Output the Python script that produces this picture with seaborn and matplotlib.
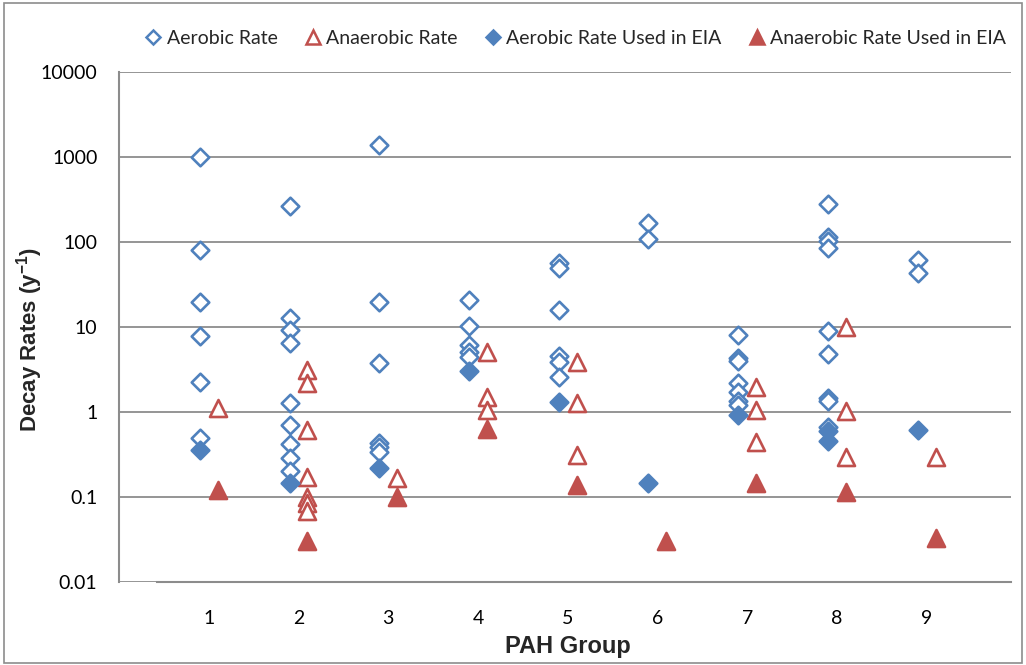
import matplotlib
matplotlib.use("Agg")
import matplotlib.pyplot as plt
import matplotlib.patches as patches
import matplotlib.ticker as mticker
import pandas as pd
import seaborn as sns

# PAH group decay rates (1/y)
aerobic_group = [1, 1, 1, 1, 1, 1,
                 2, 2, 2, 2, 2, 2, 2, 2, 2,
                 3, 3, 3, 3, 3, 3,
                 4, 4, 4, 4, 4,
                 5, 5, 5, 5, 5, 5,
                 6, 6,
                 7, 7, 7, 7, 7, 7, 7,
                 8, 8, 8, 8, 8, 8, 8, 8, 8,
                 9, 9]
aerobic_rate = [1000, 80, 19.7, 7.8, 2.25, 0.5,
                265, 12.8, 9.2, 6.5, 1.28, 0.7, 0.42, 0.29, 0.2,
                1380, 19.7, 3.77, 0.43, 0.39, 0.34,
                20.8, 10.3, 6.1, 5.1, 4.4,
                56.6, 49.5, 15.8, 4.56, 3.87, 2.58,
                167, 108,
                8.05, 4.3, 4.0, 2.19, 1.72, 1.35, 1.2,
                280, 115, 103, 85, 9.0, 4.8, 1.46, 1.35, 0.67,
                61.4, 43]

anaerobic_group = [1,
                   2, 2, 2, 2, 2, 2, 2,
                   3,
                   4, 4, 4,
                   5, 5, 5,
                   7, 7, 7,
                   8, 8, 8,
                   9]
anaerobic_rate = [1.11,
                  3.1, 2.2, 0.61, 0.17, 0.1, 0.085, 0.068,
                  0.167,
                  5.1, 1.5, 1.06,
                  3.87, 1.28, 0.31,
                  1.97, 1.06, 0.44,
                  10, 1.03, 0.296,
                  0.296]

aerobic_eia_group = [1, 2, 3, 4, 5, 6, 7, 8, 8, 9]
aerobic_eia_rate = [0.36, 0.146, 0.22, 3.0, 1.31, 0.146, 0.92, 0.6, 0.45, 0.61]

anaerobic_eia_group = [1, 2, 3, 4, 5, 6, 7, 8, 9]
anaerobic_eia_rate = [0.12, 0.03, 0.1, 0.63, 0.138, 0.03, 0.146, 0.115, 0.033]

group_ticks = [1, 2, 3, 4, 5, 6, 7, 8, 9]
rate_ticks = [0.01, 0.1, 1, 10, 100, 1000, 10000]

BLUE = "#4F81BD"
RED = "#C0504D"
GRID = "#8C8C8C"

sns.set_style("white")
plt.rcParams["font.family"] = ["Lato", "DejaVu Sans"]
plt.rcParams["mathtext.fontset"] = "custom"
plt.rcParams["mathtext.rm"] = "Liberation Sans"
plt.rcParams["mathtext.bf"] = "Liberation Sans:bold"

fig = plt.figure(figsize=(10.26, 6.65), dpi=100)
ax = fig.add_axes([119 / 1026, 1 - 582 / 665, (1011 - 119) / 1026, (582 - 72) / 665])

series = [
    (aerobic_group, aerobic_rate, -0.1, "D", "white", BLUE, 80, "Aerobic Rate"),
    (anaerobic_group, anaerobic_rate, 0.1, "^", "white", RED, 150, "Anaerobic Rate"),
    (aerobic_eia_group, aerobic_eia_rate, -0.1, "D", BLUE, BLUE, 80, "Aerobic Rate Used in EIA"),
    (anaerobic_eia_group, anaerobic_eia_rate, 0.1, "^", RED, RED, 150, "Anaerobic Rate Used in EIA"),
]

for grp, rate, off, mk, fc, ec, size, label in series:
    df = pd.DataFrame({"group": [g + off for g in grp], "rate": rate})
    sns.scatterplot(data=df, x="group", y="rate", marker=mk, s=size,
                    facecolor=fc, edgecolor=ec, linewidth=1.9, label=label,
                    ax=ax, zorder=3, legend=False)

ax.set_yscale("log")
ax.set_ylim(0.01, 10000)
ax.set_xlim(0, 9.94)
ax.yaxis.set_major_locator(mticker.FixedLocator(rate_ticks))
ax.yaxis.set_major_formatter(mticker.FuncFormatter(lambda v, p: f"{v:g}"))
ax.yaxis.set_minor_locator(mticker.NullLocator())
ax.set_xticks(group_ticks)
ax.set_xticklabels([str(g) for g in group_ticks])

ax.yaxis.grid(True, color=GRID, linewidth=1.3)
ax.xaxis.grid(False)
ax.set_axisbelow(True)
for side in ["top", "right"]:
    ax.spines[side].set_visible(False)
for side in ["left", "bottom"]:
    ax.spines[side].set_color(GRID)
    ax.spines[side].set_linewidth(1.5)
ax.spines["bottom"].set_bounds(0.42, 9.94)
ax.tick_params(axis="both", direction="out", length=5, width=1.3, color=GRID,
               labelsize=14, labelcolor="black")
ax.tick_params(axis="x", pad=15)
ax.tick_params(axis="y", pad=10.5)

ax.set_xlabel("PAH Group", family="Liberation Sans", fontsize=17, fontweight="bold")
ax.set_ylabel(r"Decay Rates (y$^{\mathbf{-1}}$)", family="Liberation Sans",
              fontsize=16, fontweight="bold")
ax.xaxis.set_label_coords(0.503, -0.104)
ax.yaxis.set_label_coords(-0.083, 0.475)

handles = [
    plt.Line2D([], [], linestyle="none", marker="D", markersize=7, markerfacecolor="white",
               markeredgecolor=BLUE, markeredgewidth=1.8),
    plt.Line2D([], [], linestyle="none", marker="^", markersize=10, markerfacecolor="white",
               markeredgecolor=RED, markeredgewidth=1.8),
    plt.Line2D([], [], linestyle="none", marker="D", markersize=7, markerfacecolor=BLUE,
               markeredgecolor=BLUE, markeredgewidth=1.8),
    plt.Line2D([], [], linestyle="none", marker="^", markersize=10, markerfacecolor=RED,
               markeredgecolor=RED, markeredgewidth=1.8),
]
labels = [s[-1] for s in series]
fig.legend(handles, labels, loc="center", bbox_to_anchor=(576 / 1026, 1 - 38 / 665),
           ncol=4, frameon=False, fontsize=14, handlelength=0.8, handletextpad=0.3,
           columnspacing=1.4)

fig.add_artist(patches.Rectangle((4 / 1026, 2 / 665), 1 - 8 / 1026, 1 - 5 / 665,
                                 transform=fig.transFigure, fill=False,
                                 edgecolor="#8C8C8C", linewidth=1.2))

fig.savefig("out.png", dpi=100)
